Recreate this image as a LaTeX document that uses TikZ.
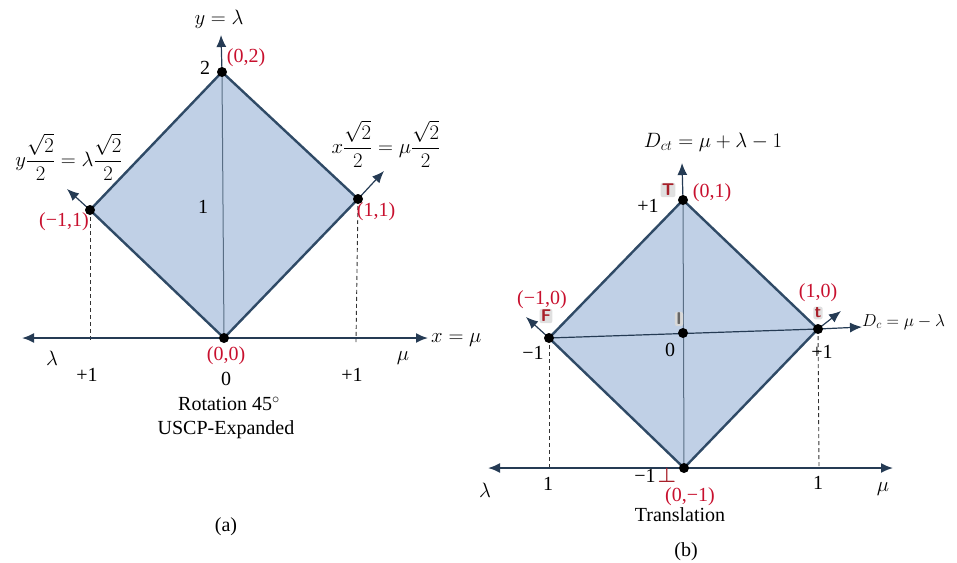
\documentclass[tikz,border=0pt]{standalone}
\usepackage{amsmath}
\usepackage{fontspec}
\setmainfont{Liberation Serif}
\usetikzlibrary{arrows.meta}
\definecolor{fillc}{HTML}{C0D0E6}
\definecolor{edgec}{HTML}{2F4A66}
\definecolor{axisc}{HTML}{253B54}
\definecolor{redc}{HTML}{C8102E}
\definecolor{badgec}{HTML}{A8202A}
\tikzset{
  txt/.style={font=\fontsize{20}{22}\selectfont, inner sep=0pt},
  rlab/.style={txt, text=redc},
  dot/.style={circle, fill=black, inner sep=0pt, minimum size=10pt},
  edge/.style={draw=edgec, line width=2.4pt, line join=round},
  axis/.style={draw=axisc, line width=1.8pt},
  tip/.style={-{Latex[length=12pt,width=10pt]}},
  bitip/.style={{Latex[length=12pt,width=10pt]}-{Latex[length=12pt,width=10pt]}},
  inner/.style={draw=edgec!80, line width=1pt},
  guide/.style={draw=black!80, line width=0.9pt, dashed, dash pattern=on 4pt off 3pt},
  badge/.style={rounded corners=2pt, fill=black!12, text=badgec, inner sep=1.2pt,
    font=\sffamily\bfseries\fontsize{17}{17}\selectfont},
}
\begin{document}
\begin{tikzpicture}[x=1pt,y=-1pt]
\useasboundingbox (0,0) rectangle (957,562);
% ===== (a) =====
\coordinate (A00) at (224,338);
\coordinate (A02) at (222,72);
\coordinate (Am11) at (90,210);
\coordinate (A11) at (358,199);
\coordinate (Axl) at (22,338);
\coordinate (Axr) at (428,338);
\coordinate (Ayt) at (221,35);
\coordinate (Aal) at (67,189);
\coordinate (Aar) at (384,171);
\coordinate (Adl) at (90,342);
\coordinate (Adr) at (356,342);
\fill[fillc] (A02)--(A11)--(A00)--(Am11)--cycle;
\draw[guide] (Am11)--(Adl);
\draw[guide] (A11)--(Adr);
\draw[inner] (A00)--(A02);
\draw[axis,bitip] (Axl)--(Axr);
\draw[axis,tip,line width=1.2pt] (A02)--(Ayt);
\draw[axis,tip,line width=1.2pt] (Am11)--(Aal);
\draw[axis,tip,line width=1.2pt] (A11)--(Aar);
\draw[edge] (A02)--(A11)--(A00)--(Am11)--cycle;
\node[dot] (dA00) at (A00) {};
\node[dot] (dA02) at (A02) {};
\node[dot] (dAm11) at (Am11) {};
\node[dot] (dA11) at (A11) {};
\node[txt] (la1) at (219,19) {$y=\lambda$};
\node[txt] (la2) at (205,68) {2};
\node[rlab] (la3) at (246,58) {(0,2)};
\node[txt] (la4) at (203,207) {1};
\node[rlab] (la5) at (64,222) {(\textminus1,1)};
\node[rlab] (la6) at (376,212) {(1,1)};
\node[txt] (la7) at (69,157) {$y\dfrac{\sqrt{2}}{2}=\lambda\dfrac{\sqrt{2}}{2}$};
\node[txt] (la8) at (386,144) {$x\dfrac{\sqrt{2}}{2}=\mu\dfrac{\sqrt{2}}{2}$};
\node[txt,anchor=west] (la9) at (431,340) {$x=\mu$};
\node[txt] (la10) at (52,358) {$\lambda$};
\node[txt] (la11) at (403,358) {$\mu$};
\node[txt] (la12) at (87,375) {+1};
\node[rlab] (la13) at (226,356) {(0,0)};
\node[txt] (la14) at (226,379) {0};
\node[txt] (la15) at (352,375) {+1};
\node[txt] (la16) at (229,404) {Rotation 45$^{\circ}$};
\node[txt] (la17) at (226,430) {USCP-Expanded};
\node[txt] (la18) at (226,527) {(a)};
% ===== (b) =====
\coordinate (B01) at (683,200);
\coordinate (Bm10) at (549,338);
\coordinate (B10) at (818,329);
\coordinate (BI) at (683,333);
\coordinate (B0m1) at (684,468);
\coordinate (Bxl) at (488,468);
\coordinate (Bxr) at (893,468);
\coordinate (Byt) at (682,163);
\coordinate (Bcr) at (862,327);
\coordinate (Bal) at (526,317);
\coordinate (Bar) at (841,311);
\coordinate (Bdl) at (549,468);
\coordinate (Bdr) at (819,468);
\fill[fillc] (B01)--(B10)--(B0m1)--(Bm10)--cycle;
\draw[guide] (Bm10)--(Bdl);
\draw[guide] (B10)--(Bdr);
\draw[inner] (B0m1)--(B01);
\draw[axis,tip,line width=1.2pt] (B01)--(Byt);
\draw[axis,line width=1.2pt] (Bm10)--(B10);
\draw[axis,tip,line width=1.2pt] (B10)--(Bcr);
\draw[axis,tip,line width=1.2pt] (Bm10)--(Bal);
\draw[axis,tip,line width=1.2pt] (B10)--(Bar);
\draw[axis,bitip] (Bxl)--(Bxr);
\draw[edge] (B01)--(B10)--(B0m1)--(Bm10)--cycle;
\node[dot] (dB01) at (B01) {};
\node[dot] (dBm10) at (Bm10) {};
\node[dot] (dB10) at (B10) {};
\node[dot] (dBI) at (BI) {};
\node[dot] (dB0m1) at (B0m1) {};
\node[txt] (lb1) at (713,142) {$D_{ct}=\mu+\lambda-1$};
\node[badge] (bT) at (668,190) {T};
\node[rlab] (lb2) at (712,193) {(0,1)};
\node[txt] (lb3) at (648,206) {+1};
\node[rlab] (lb4) at (542,300) {(\textminus1,0)};
\node[badge] (bF) at (546,316) {F};
\node[txt] (lb5) at (533,353) {\textminus1};
\node[badge,fill=black!15,text=black!60] (bI) at (679,319) {I};
\node[txt] (lb6) at (670,350) {0};
\node[rlab] (lb7) at (818,293) {(1,0)};
\node[badge] (bt) at (818,313) {t};
\node[txt] (lb8) at (822,352) {+1};
\node[txt,anchor=west,font=\fontsize{18.5}{20}\selectfont] (lb9) at (862,322) {$D_c=\mu-\lambda$};
\node[txt] (lb10) at (485,490) {$\lambda$};
\node[txt] (lb11) at (548,484) {1};
\node[txt] (lb12) at (645,476) {\textminus1};
\node[badge,fill=none,text=badgec,font=\bfseries\fontsize{22}{22}\selectfont] (bB) at (667,475) {$\boldsymbol{\bot}$};
\node[rlab] (lb13) at (690,497) {(0,\textminus1)};
\node[txt] (lb14) at (818,483) {1};
\node[txt] (lb15) at (883,489) {$\mu$};
\node[txt] (lb16) at (680,515) {Translation};
\node[txt] (lb17) at (686,552) {(b)};
\end{tikzpicture}
\end{document}
